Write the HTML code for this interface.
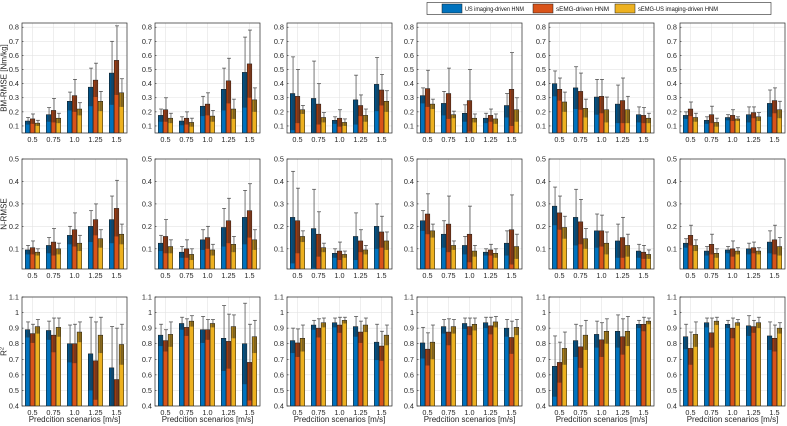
<!DOCTYPE html>
<html><head><meta charset="utf-8"><style>
body{margin:0;background:#fff;}
svg{display:block;font-family:"Liberation Sans",sans-serif;}
</style></head><body>
<svg id="c" width="787" height="426" viewBox="0 0 787 426" xmlns="http://www.w3.org/2000/svg"></svg>
<script>
const categories = ["0.5","0.75","1.0","1.25","1.5"];
const seriesNames = ["US imaging-driven HNM","sEMG-driven HNM","sEMG-US imaging-driven HNM"];
const rowTitles = ["BM-RMSE [Nm/kg]","N-RMSE","R2"];
const row1Ticks = [0.1,0.2,0.3,0.4,0.5,0.6,0.7,0.8];
const row2Ticks = [0.1,0.2,0.3,0.4,0.5];
const row3Ticks = [0.4,0.5,0.6,0.7,0.8,0.9,1,1.1];
const row1TickLabels = ["0.1","0.2","0.3","0.4","0.5","0.6","0.7","0.8"];
const row2TickLabels = ["0.1","0.2","0.3","0.4","0.5"];
const row3TickLabels = ["0.4","0.5","0.6","0.7","0.8","0.9","1","1.1"];
const row1Range = [0.05,0.83];
const row2Range = [0.01,0.5];
const row3Range = [0.4,1.1];
// each panel: [category][series] = [mean, upper]
const bmRmse = [
 [[[0.135,0.16],[0.15,0.185],[0.12,0.14]],[[0.18,0.23],[0.21,0.295],[0.155,0.19]],[[0.275,0.34],[0.315,0.43],[0.22,0.265]],[[0.375,0.51],[0.425,0.545],[0.275,0.345]],[[0.475,0.70],[0.565,0.81],[0.335,0.435]]],
 [[[0.175,0.22],[0.215,0.30],[0.155,0.19]],[[0.135,0.165],[0.155,0.20],[0.125,0.155]],[[0.24,0.31],[0.255,0.335],[0.17,0.21]],[[0.36,0.51],[0.42,0.58],[0.22,0.29]],[[0.48,0.73],[0.54,0.78],[0.285,0.37]]],
 [[[0.33,0.59],[0.31,0.50],[0.215,0.245]],[[0.295,0.56],[0.255,0.40],[0.16,0.195]],[[0.14,0.165],[0.155,0.215],[0.125,0.15]],[[0.285,0.46],[0.245,0.32],[0.175,0.22]],[[0.395,0.585],[0.355,0.465],[0.275,0.35]]],
 [[[0.315,0.37],[0.365,0.495],[0.255,0.29]],[[0.26,0.345],[0.33,0.51],[0.18,0.205]],[[0.19,0.25],[0.28,0.50],[0.155,0.185]],[[0.155,0.19],[0.175,0.22],[0.15,0.185]],[[0.245,0.33],[0.36,0.62],[0.215,0.30]]],
 [[[0.40,0.49],[0.36,0.44],[0.27,0.34]],[[0.37,0.52],[0.345,0.475],[0.225,0.29]],[[0.305,0.43],[0.31,0.43],[0.215,0.305]],[[0.255,0.39],[0.28,0.44],[0.215,0.31]],[[0.18,0.235],[0.175,0.23],[0.155,0.19]]],
 [[[0.175,0.20],[0.22,0.27],[0.16,0.19]],[[0.14,0.165],[0.18,0.24],[0.125,0.155]],[[0.16,0.18],[0.175,0.215],[0.15,0.165]],[[0.18,0.235],[0.195,0.235],[0.165,0.195]],[[0.26,0.355],[0.28,0.37],[0.215,0.275]]]
];
const nRmse = [
 [[[0.095,0.115],[0.105,0.135],[0.085,0.10]],[[0.115,0.15],[0.13,0.19],[0.10,0.125]],[[0.16,0.20],[0.185,0.26],[0.125,0.16]],[[0.20,0.27],[0.23,0.30],[0.145,0.185]],[[0.23,0.335],[0.28,0.405],[0.165,0.21]]],
 [[[0.125,0.16],[0.155,0.23],[0.11,0.14]],[[0.085,0.11],[0.10,0.14],[0.075,0.10]],[[0.14,0.185],[0.15,0.20],[0.095,0.12]],[[0.195,0.28],[0.225,0.325],[0.12,0.155]],[[0.24,0.36],[0.27,0.39],[0.14,0.185]]],
 [[[0.24,0.445],[0.225,0.37],[0.155,0.18]],[[0.19,0.365],[0.165,0.265],[0.105,0.125]],[[0.08,0.10],[0.09,0.13],[0.075,0.09]],[[0.155,0.26],[0.135,0.185],[0.095,0.115]],[[0.20,0.30],[0.175,0.245],[0.135,0.175]]],
 [[[0.225,0.27],[0.255,0.345],[0.18,0.21]],[[0.165,0.225],[0.21,0.335],[0.115,0.135]],[[0.115,0.155],[0.165,0.29],[0.09,0.115]],[[0.085,0.10],[0.095,0.12],[0.08,0.10]],[[0.125,0.18],[0.185,0.34],[0.11,0.165]]],
 [[[0.29,0.375],[0.26,0.335],[0.195,0.245]],[[0.24,0.365],[0.22,0.32],[0.145,0.19]],[[0.18,0.255],[0.18,0.25],[0.125,0.175]],[[0.135,0.21],[0.15,0.24],[0.115,0.165]],[[0.09,0.12],[0.085,0.115],[0.075,0.095]]],
 [[[0.125,0.145],[0.16,0.205],[0.115,0.14]],[[0.09,0.11],[0.12,0.165],[0.08,0.10]],[[0.095,0.11],[0.10,0.135],[0.09,0.105]],[[0.10,0.125],[0.105,0.13],[0.09,0.105]],[[0.13,0.18],[0.14,0.205],[0.11,0.15]]]
];
const rSquared = [
 [[[0.89,0.94],[0.865,0.925],[0.91,0.955]],[[0.885,0.945],[0.855,0.965],[0.905,0.965]],[[0.80,0.92],[0.80,0.925],[0.875,0.94]],[[0.735,0.97],[0.69,0.94],[0.855,0.97]],[[0.645,0.91],[0.57,0.90],[0.795,0.925]]],
 [[[0.855,0.925],[0.82,0.89],[0.86,0.94]],[[0.93,0.97],[0.905,0.96],[0.945,0.98]],[[0.89,0.975],[0.89,0.955],[0.93,0.955]],[[0.835,1.045],[0.815,0.99],[0.91,0.985]],[[0.80,1.06],[0.68,0.925],[0.845,0.95]]],
 [[[0.82,0.90],[0.805,0.895],[0.835,0.92]],[[0.92,0.95],[0.90,0.96],[0.935,0.965]],[[0.935,0.965],[0.92,0.97],[0.95,0.97]],[[0.91,0.975],[0.875,0.945],[0.92,0.965]],[[0.81,0.925],[0.785,0.88],[0.855,0.92]]],
 [[[0.805,0.905],[0.765,0.87],[0.81,0.92]],[[0.91,0.955],[0.875,0.96],[0.91,0.955]],[[0.93,0.965],[0.91,0.965],[0.925,0.965]],[[0.935,0.97],[0.915,0.97],[0.94,0.975]],[[0.90,0.955],[0.84,0.945],[0.905,0.955]]],
 [[[0.655,0.85],[0.68,0.81],[0.77,0.875]],[[0.82,0.925],[0.78,0.915],[0.855,0.95]],[[0.86,0.945],[0.825,0.935],[0.88,0.96]],[[0.88,0.985],[0.845,0.96],[0.88,0.975]],[[0.925,0.95],[0.925,0.97],[0.945,0.965]]],
 [[[0.845,0.925],[0.77,0.875],[0.86,0.94]],[[0.935,0.965],[0.87,0.965],[0.945,0.97]],[[0.925,0.95],[0.90,0.965],[0.935,0.955]],[[0.915,0.98],[0.91,0.95],[0.935,0.97]],[[0.85,0.94],[0.835,0.92],[0.90,0.935]]]
];

const NS="http://www.w3.org/2000/svg";
const svg=document.getElementById('c');
const colors=["#0072BD","#D95319","#EDB120"];
function mk(tag,attrs,parent){const e=document.createElementNS(NS,tag);for(const k in attrs)e.setAttribute(k,attrs[k]);(parent||svg).appendChild(e);return e;}
const panelLefts=[22,155,287,417,549,680];
const panelW=105;
const rows=[
 {top:23,bot:133,range:row1Range,ticks:row1Ticks,labels:row1TickLabels,data:bmRmse,name:'bm-rmse'},
 {top:159,bot:269,range:row2Range,ticks:row2Ticks,labels:row2TickLabels,data:nRmse,name:'n-rmse'},
 {top:297,bot:406,range:row3Range,ticks:row3Ticks,labels:row3TickLabels,data:rSquared,name:'r-squared'}
];
rows.forEach((row,ri)=>{
 const yS=v=>row.bot-(v-row.range[0])/(row.range[1]-row.range[0])*(row.bot-row.top);
 panelLefts.forEach((L,pi)=>{
  const xS=c=>L+(c+0.5)/5*panelW;
  const unit=panelW/5;
  const g=mk('g',{});
  
  
  const clipId='cl'+ri+'_'+pi;
  const cp=mk('clipPath',{id:clipId},g);
  mk('rect',{x:L,y:row.top,width:panelW,height:row.bot-row.top},cp);
  row.ticks.forEach((t,ti)=>{
   const y=yS(t);
   const gl=mk('line',{x1:L,x2:L+panelW,y1:y,y2:y,stroke:'#e3e3e3','stroke-width':0.6},g);
   
   
   const tl=mk('text',{x:L-3,y:y+2.5,'text-anchor':'end','font-size':7.3,fill:'#262626'},g);
   tl.textContent=row.labels[ti];
   
   
   mk('line',{x1:L,x2:L+1.5,y1:y,y2:y,stroke:'#262626','stroke-width':0.6},g);
  });
  categories.forEach((c,ci)=>{
   const x=xS(ci);
   const vl=mk('line',{x1:x,x2:x,y1:row.top,y2:row.bot,stroke:'#e3e3e3','stroke-width':0.6},g);
   
   
   const xt=mk('text',{x:x,y:row.bot+9,'text-anchor':'middle','font-size':7.3,fill:'#262626'},g);
   xt.textContent=c;
   
   
  });
  const bars=mk('g',{'clip-path':'url(#'+clipId+')'},g);
  const bw=unit*0.22;
  categories.forEach((c,ci)=>{
   for(let s=0;s<3;s++){
    const [m,up]=row.data[pi][ci][s];
    const err=up-m, lo=m-err;
    const cx=xS(ci)+(s-1)*unit*0.235;
    const yt=yS(m), yb=row.bot+1;
    const r=mk('rect',{x:cx-bw/2,y:yt,width:bw,height:Math.max(0,yb-yt),fill:colors[s],stroke:'#1a1a1a','stroke-width':0.5},bars);
    
    
    const ylo=Math.min(yS(lo),yb);
    const sh=mk('rect',{x:cx-bw/2,y:yt,width:bw,height:Math.max(0,ylo-yt),fill:'#000','fill-opacity':0.28},bars);
    
    
    const el=mk('line',{x1:cx+0.5,x2:cx+0.5,y1:yS(up),y2:ylo,stroke:'#333','stroke-opacity':0.75,'stroke-width':0.9},bars);
    
    
    mk('line',{x1:cx-1.5,x2:cx+2.5,y1:yS(up),y2:yS(up),stroke:'#333','stroke-opacity':0.8,'stroke-width':0.8},bars);
   }
  });
  const box=mk('rect',{x:L,y:row.top,width:panelW,height:row.bot-row.top,fill:'none',stroke:'#262626','stroke-width':0.7},g);
  
  
  if(ri===2){
   const xl=mk('text',{x:L+panelW/2,y:422,'text-anchor':'middle','font-size':8,fill:'#262626'},g);
   xl.textContent='Predcition scenarios [m/s]';
   
   
  }
 });
 const yc=(row.top+row.bot)/2;
 const yt=mk('text',{x:0,y:0,'text-anchor':'middle','font-size':8,fill:'#262626',transform:'translate(6.5,'+yc+') rotate(-90)'});
 
 
 if(ri===2){yt.textContent='R';const sup=mk('tspan',{'font-size':5.5,dy:-3},yt);sup.textContent='2';}
 else yt.textContent=rowTitles[ri];
});
// legend
const lg=mk('g',{});


mk('rect',{x:427,y:2.5,width:344,height:12,fill:'#fff',stroke:'#262626','stroke-width':0.6},lg);
const lx=[442,533,615];
const lw=[59,53,80];
seriesNames.forEach((n,i)=>{
 const e=mk('g',{},lg);
 
 
 mk('rect',{x:lx[i],y:4,width:20,height:9,fill:colors[i],stroke:'#1a1a1a','stroke-width':0.5},e);
 const t=mk('text',{x:lx[i]+23,y:11,'font-size':6.2,fill:'#111',textLength:lw[i],lengthAdjust:'spacingAndGlyphs'},e);
 t.textContent=n;
});
</script>
</body></html>
